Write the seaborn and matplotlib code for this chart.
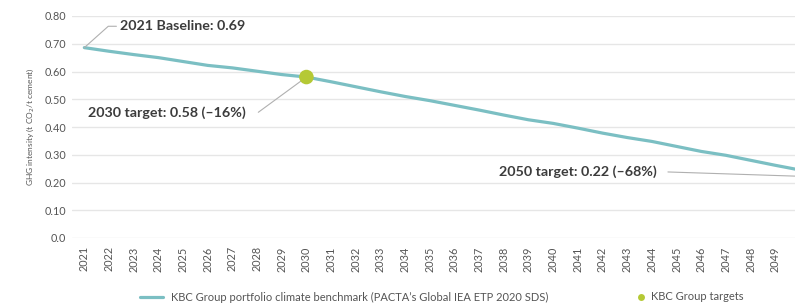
import numpy as np
import pandas as pd
import matplotlib
matplotlib.use("Agg")
import matplotlib.pyplot as plt
import seaborn as sns
from matplotlib.lines import Line2D

years = list(range(2021, 2051))
benchmark = [0.686, 0.673, 0.661, 0.650, 0.636, 0.622, 0.613, 0.601, 0.589, 0.580,
             0.563, 0.545, 0.527, 0.510, 0.495, 0.478, 0.461, 0.443, 0.426, 0.413,
             0.396, 0.378, 0.362, 0.348, 0.330, 0.312, 0.298, 0.280, 0.262, 0.245]
target_years = [2030, 2050]
target_values = [0.58, 0.22]
y_ticks = [0.0, 0.1, 0.2, 0.3, 0.4, 0.5, 0.6, 0.7, 0.8]
y_tick_labels = ["0.0", "0.10", "0.20", "0.30", "0.40", "0.50", "0.60", "0.70", "0.80"]

line_color = "#7bbfc3"
dot_color = "#b5c935"
text_color = "#3c3c3c"
tick_color = "#555555"
grid_color = "#e6e6e6"

sns.set_style("white")
plt.rcParams["font.family"] = ["Lato", "DejaVu Sans"]

df = pd.DataFrame({"year": years, "value": benchmark})
x_right = 2049.8
# the chart is cut off just before 2050, so only targets in view get a dot
shown = [(y, v) for y, v in zip(target_years, target_values) if y <= x_right]

fig = plt.figure(figsize=(7.95, 3.04), dpi=100)
ax = fig.add_axes([72 / 795, 66 / 304, 1 - 72 / 795, 222 / 304])

for yv in y_ticks:
    ax.axhline(yv, color=grid_color, lw=1, zorder=0)

sns.lineplot(data=df, x="year", y="value", ax=ax, color=line_color, lw=2.3, zorder=2)
sns.scatterplot(x=[s[0] for s in shown], y=[s[1] for s in shown], ax=ax, color=dot_color,
                s=110, edgecolor="none", zorder=3)

ax.set_xlim(2020.5, x_right)
ax.set_ylim(0, 0.8)
ax.set_xticks(years[:-1])
ax.set_xticklabels([str(y) for y in years[:-1]], rotation=90, fontsize=7.8, color=tick_color)
ax.set_yticks(y_ticks)
ax.set_yticklabels(y_tick_labels, fontsize=7.8, color=tick_color)
ax.tick_params(axis="x", length=0, pad=6)
ax.tick_params(axis="y", length=0, pad=4)
for s in ax.spines.values():
    s.set_visible(False)
ax.set_xlabel("")
ax.set_ylabel("GHG intensity (t CO$_2$/t cement)", fontsize=6, color=tick_color, labelpad=6)

conn = dict(color="#b0b0b0", lw=0.8)
ann = dict(fontsize=10.3, fontweight="bold", color=text_color, va="center")
# 2021 baseline
ax.plot([2021, 2021.97, 2022.3], [0.686, 0.763, 0.763], clip_on=False, **conn)
ax.text(2022.45, 0.763, "2021 Baseline: 0.69", ha="left", **ann)
# 2030 target
ax.plot([2028.05, 2030], [0.453, 0.58], **conn)
ax.text(2027.55, 0.453, "2030 target: 0.58 (\u201316%)", ha="right", **ann)
# 2050 target
ax.plot([2044.65, x_right], [0.238, 0.223], clip_on=False, **conn)
ax.text(2044.2, 0.238, "2050 target: 0.22 (\u201368%)", ha="right", **ann)

leg1 = fig.legend([Line2D([0], [0], color=line_color, lw=2.3)],
                  ["KBC Group portfolio climate benchmark (PACTA\u2019s Global IEA ETP 2020 SDS)"],
                  loc="center left", bbox_to_anchor=(130 / 795, 7 / 304), frameon=False,
                  fontsize=8, labelcolor=tick_color, handlelength=2.1, handletextpad=0.7)
fig.legend([Line2D([0], [0], marker="o", color="none", markerfacecolor=dot_color,
                   markeredgecolor="none", markersize=5)],
           ["KBC Group targets"],
           loc="center left", bbox_to_anchor=(625 / 795, 7 / 304), frameon=False,
           fontsize=8, labelcolor=tick_color, handlelength=1.0, handletextpad=0.4)

fig.savefig("out.png", dpi=100)
